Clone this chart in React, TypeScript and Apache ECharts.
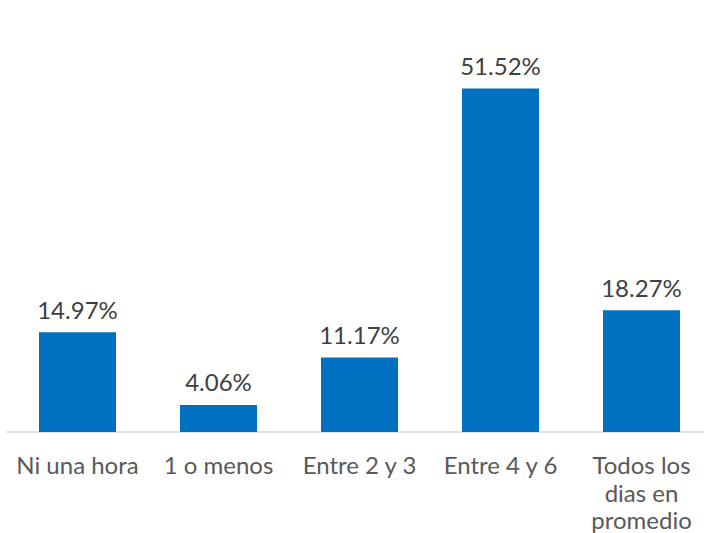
import React, { useEffect, useRef } from "react";
import * as echarts from "echarts";

const categories = ["Ni una hora", "1 o menos", "Entre 2 y 3", "Entre 4 y 6", "Todos los\ndias en\npromedio"];
const values = [14.97, 4.06, 11.17, 51.52, 18.27];

export default function App() {
  const ref = useRef<HTMLDivElement>(null);
  useEffect(() => {
    document.body.style.margin = "0";
    const chart = echarts.init(ref.current!, null, { renderer: "svg" });
    chart.setOption({
      animation: false,
      grid: { left: 7, top: 32, width: 705, height: 400, outerBoundsMode: "none", containLabel: false },
      xAxis: {
        type: "category",
        data: categories,
        axisLine: { lineStyle: { color: "#d9d9d9", width: 1.5 } },
        axisTick: { show: false },
        axisLabel: {
          color: "#595959",
          fontFamily: "Lato",
          fontSize: 24,
          lineHeight: 27.5,
          margin: 19,
          interval: 0,
        },
      },
      yAxis: {
        type: "value",
        min: 0,
        max: 60,
        show: false,
        splitLine: { show: false },
      },
      series: [
        {
          type: "bar",
          data: values,
          barWidth: 77,
          itemStyle: { color: "#0070C0" },
          label: {
            show: true,
            position: "top",
            distance: 11,
            color: "#404040",
            fontFamily: "Lato",
            fontSize: 24,
            formatter: (p: any) => p.value.toFixed(2) + "%",
          },
        },
      ],
    });
    return () => chart.dispose();
  }, []);
  return <div ref={ref} style={{ width: 704, height: 533 }} />;
}
